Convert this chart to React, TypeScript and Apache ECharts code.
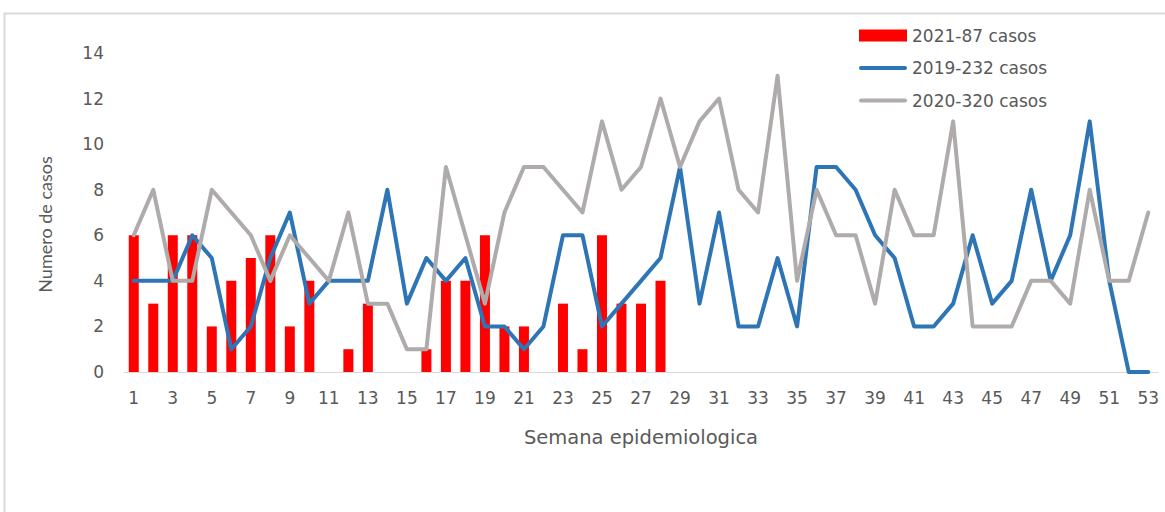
import React, { useEffect, useRef } from "react";
import * as echarts from "echarts";

const weeks: string[] = Array.from({ length: 53 }, (_, i) => String(i + 1));

const cases2021: number[] = [6, 3, 6, 6, 2, 4, 5, 6, 2, 4, 0, 1, 3, 0, 0, 1, 4, 4, 6, 2, 2, 0, 3, 1, 6, 3, 3, 4];

const cases2019: number[] = [
  4, 4, 4, 6, 5, 1, 2, 5, 7, 3, 4, 4, 4, 8, 3, 5, 4, 5, 2, 2, 1, 2, 6, 6, 2, 3, 4, 5, 9, 3, 7, 2, 2, 5, 2, 9, 9,
  8, 6, 5, 2, 2, 3, 6, 3, 4, 8, 4, 6, 11, 4, 0, 0,
];

const cases2020: number[] = [
  6, 8, 4, 4, 8, 7, 6, 4, 6, 5, 4, 7, 3, 3, 1, 1, 9, 6, 3, 7, 9, 9, 8, 7, 11, 8, 9, 12, 9, 11, 12, 8, 7, 13, 4, 8,
  6, 6, 3, 8, 6, 6, 11, 2, 2, 2, 4, 4, 3, 8, 4, 4, 7,
];

const yTicks = { min: 0, max: 14, interval: 2 };

const WIDE = "'DejaVu Sans', sans-serif";
const NARROW = "Lato, 'Open Sans', sans-serif";
const TXT = "#595959";
const LINE_ICON = "path://M2,0 L46,0 A2,2 0 0 1 46,4 L2,4 A2,2 0 0 1 2,0 Z";

export default function App() {
  const ref = useRef<HTMLDivElement>(null);
  useEffect(() => {
    if (!ref.current) return;
    const chart = echarts.init(ref.current, undefined, { renderer: "svg" });
    chart.setOption({
      animation: false,
      backgroundColor: "#ffffff",
      textStyle: { fontFamily: WIDE },
      graphic: [
        {
          type: "rect",
          shape: { x: 4.5, y: 13.5, width: 1200, height: 600 },
          style: { fill: "none", stroke: "#d9d9d9", lineWidth: 2 },
          silent: true,
          z: -10,
        },
      ],
      grid: { left: 124, right: 7, top: 53, bottom: 140, containLabel: false },
      legend: {
        orient: "vertical",
        left: 854,
        top: 22,
        itemWidth: 48,
        itemHeight: 12,
        itemGap: 15.5,
        textStyle: { color: TXT, fontSize: 17, fontFamily: WIDE },
        data: [
          { name: "2021-87 casos", icon: "rect" },
          { name: "2019-232 casos", icon: LINE_ICON },
          { name: "2020-320 casos", icon: LINE_ICON },
        ],
      },
      xAxis: {
        type: "category",
        data: weeks,
        name: "Semana epidemiologica",
        nameLocation: "middle",
        nameGap: 55,
        nameTextStyle: { color: TXT, fontSize: 19.5, fontFamily: WIDE },
        axisLine: { lineStyle: { color: "#d9d9d9", width: 1 } },
        axisTick: { show: false },
        axisLabel: { interval: 1, color: TXT, fontSize: 17, margin: 17, fontFamily: WIDE },
      },
      yAxis: {
        type: "value",
        min: yTicks.min,
        max: yTicks.max,
        interval: yTicks.interval,
        name: "Numero de casos",
        nameLocation: "middle",
        nameGap: 70,
        nameTextStyle: { color: TXT, fontSize: 18, fontFamily: NARROW, padding: [0, 24, 0, 0] },
        splitLine: { show: false },
        axisLine: { show: false },
        axisTick: { show: false },
        axisLabel: { color: TXT, fontSize: 17, margin: 20, fontFamily: WIDE },
      },
      series: [
        {
          name: "2021-87 casos",
          type: "bar",
          data: cases2021,
          barWidth: 10,
          itemStyle: { color: "#ff0000" },
          z: 1,
        },
        {
          name: "2019-232 casos",
          type: "line",
          data: cases2019,
          symbol: "none",
          lineStyle: { color: "#2e75b6", width: 4, join: "round", cap: "round" },
          itemStyle: { color: "#2e75b6" },
          z: 2,
        },
        {
          name: "2020-320 casos",
          type: "line",
          data: cases2020,
          symbol: "none",
          lineStyle: { color: "#afabab", width: 4, join: "round", cap: "round" },
          itemStyle: { color: "#afabab" },
          z: 3,
        },
      ],
    });
    return () => chart.dispose();
  }, []);
  return (
    <div
      ref={ref}
      style={{ position: "fixed", left: 0, top: 0, width: 1165, height: 512 }}
    />
  );
}
